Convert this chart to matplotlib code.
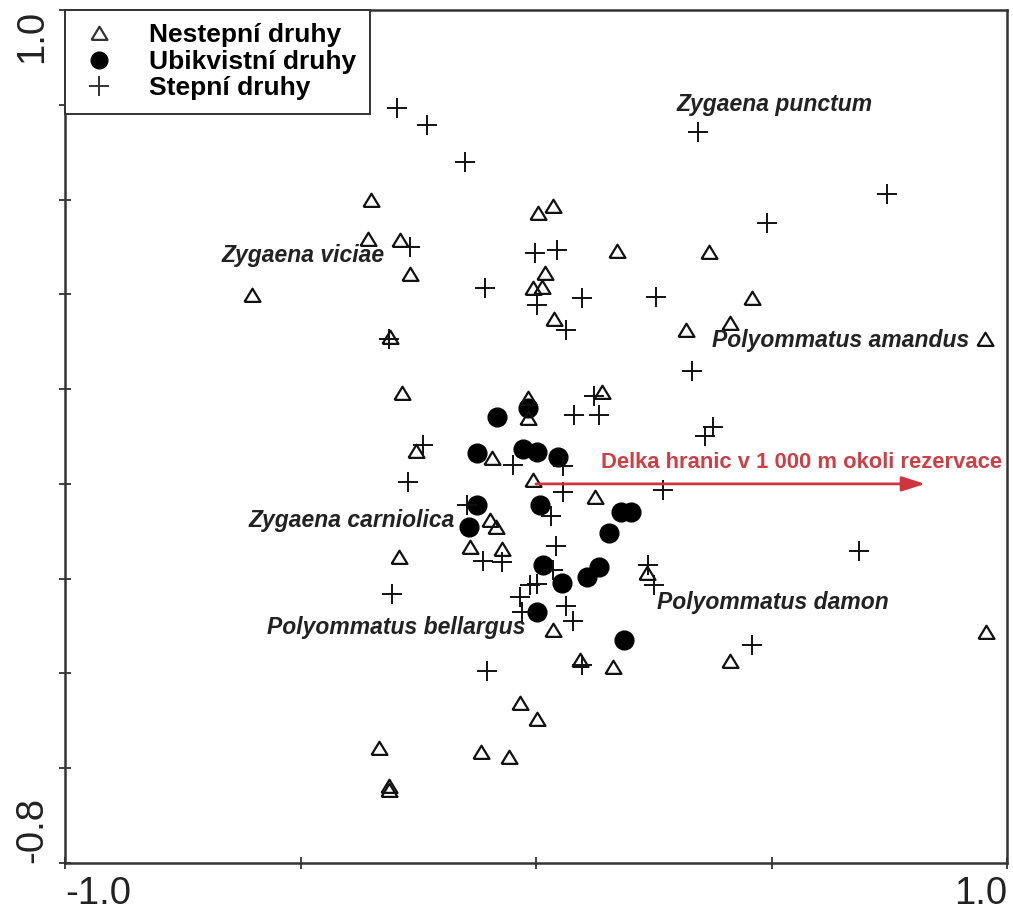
import numpy as np
import matplotlib.pyplot as plt
from matplotlib.lines import Line2D

plt.rcParams['font.family'] = ['Liberation Sans', 'DejaVu Sans']

# Nestepni druhy (triangles)
tri_x = [-0.350, 0.004, 0.036, -0.357, -0.289, -0.268, -0.603, 0.172, 0.367, 0.019,
         -0.006, 0.013, 0.038, 0.459, 0.318, 0.412, 0.953, -0.310, -0.285, 0.140,
         -0.017, -0.017, -0.255, -0.093, -0.006, 0.125, -0.098, -0.085, -0.140, -0.072,
         -0.291, 0.236, 0.036, 0.093, 0.163, 0.412, 0.955, -0.034, 0.002, -0.333,
         -0.117, -0.057, -0.312, -0.312]
tri_y = [0.599, 0.572, 0.587, 0.517, 0.515, 0.443, 0.399, 0.492, 0.490, 0.445,
         0.414, 0.416, 0.348, 0.392, 0.325, 0.340, 0.306, 0.310, 0.192, 0.194,
         0.181, 0.139, 0.070, 0.055, 0.008, -0.027, -0.076, -0.091, -0.133, -0.137,
         -0.154, -0.188, -0.308, -0.371, -0.386, -0.373, -0.312, -0.462, -0.496, -0.557,
         -0.566, -0.576, -0.637, -0.646]

# Ubikvistni druhy (filled circles)
dot_x = [-0.083, -0.017, -0.125, -0.028, 0.002, 0.047, -0.125, -0.142, 0.008, 0.180,
         0.202, 0.155, 0.015, 0.134, 0.108, 0.055, 0.002, 0.187]
dot_y = [0.141, 0.160, 0.065, 0.074, 0.068, 0.057, -0.044, -0.091, -0.044, -0.059,
         -0.059, -0.103, -0.171, -0.175, -0.196, -0.209, -0.270, -0.329]

# Stepni druhy (plus)
plus_x = [-0.295, -0.231, -0.151, 0.344, 0.745, 0.490, -0.268, -0.002, 0.045, -0.108,
          0.002, 0.098, 0.255, 0.064, -0.312, 0.331, 0.123, 0.081, 0.134, -0.240,
          0.376, 0.359, -0.049, 0.057, -0.272, 0.057, 0.270, -0.146, 0.032, 0.042,
          0.036, 0.686, -0.113, -0.072, 0.238, 0.251, -0.013, 0.002, -0.034, -0.030,
          0.064, 0.079, -0.306, 0.459, 0.098, -0.104]
plus_y = [0.793, 0.757, 0.679, 0.743, 0.612, 0.551, 0.500, 0.487, 0.494, 0.414,
          0.378, 0.392, 0.395, 0.325, 0.306, 0.238, 0.186, 0.146, 0.146, 0.082,
          0.120, 0.101, 0.040, 0.038, 0.004, -0.017, -0.013, -0.044, -0.068, -0.131,
          -0.181, -0.141, -0.162, -0.165, -0.171, -0.213, -0.213, -0.211, -0.238, -0.270,
          -0.257, -0.289, -0.232, -0.340, -0.382, -0.395]

# species labels (left edge, centre y)
species = ["Zygaena punctum", "Zygaena viciae", "Polyommatus amandus",
           "Zygaena carniolica", "Polyommatus damon", "Polyommatus bellargus"]
species_x = [0.299, -0.667, 0.374, -0.611, 0.257, -0.571]
species_y = [0.800, 0.483, 0.302, -0.078, -0.251, -0.304]

# environmental variable
env_name = "Delka hranic v 1 000 m okoli rezervace"
env_x = 0.826
env_y = 0.0

legend_labels = ["Nestepní druhy", "Ubikvistní druhy", "Stepní druhy"]

tri_marker = [(-1, -0.8), (1, -0.8), (0, 0.85), (-1, -0.8)]

fig = plt.figure(figsize=(10.13, 9.17), dpi=100)
ax = fig.add_axes([65 / 1013, 1 - 863 / 917, 942 / 1013, 853 / 917])

ax.plot(dot_x, dot_y, 'o', ms=13.5, color='black', mec='black', zorder=3)
ax.plot(tri_x, tri_y, ls='none', marker=tri_marker, ms=11.5, mfc='none',
        mec='#111111', mew=1.6, zorder=4)
ax.plot(plus_x, plus_y, '+', ms=15, color='#111111', mew=1.4, zorder=5)

red = '#d0343c'
ax.annotate('', xy=(env_x, env_y), xytext=(0, 0),
            arrowprops=dict(arrowstyle='-|>,head_length=1.4,head_width=0.45',
                            color=red, lw=2, shrinkA=0, shrinkB=0), zorder=6)
ax.text(0.138, 0.046, env_name, color='#cf3d45', fontsize=15.8, fontweight='bold',
        va='center', ha='left', zorder=7)

for name, sx, sy in zip(species, species_x, species_y):
    ax.text(sx, sy, name, fontsize=16.5, fontweight='bold', fontstyle='italic',
            color='#222222', va='center', ha='left', zorder=7)

ax.set_xlim(-1.0, 1.0)
ax.set_ylim(-0.8, 1.0)

ax.set_xticks([-1.0, -0.5, 0.0, 0.5, 1.0])
ax.set_xticklabels(['-1.0', '', '', '', '1.0'])
ax.set_yticks(np.round(np.arange(-0.8, 1.01, 0.2), 1))
ylabs = [''] * 10
ylabs[0] = '-0.8'
ylabs[-1] = '1.0'
ax.set_yticklabels(ylabs, rotation=90)

ax.tick_params(direction='inout', length=9, width=1.2, labelsize=27.5,
               colors='#222222', pad=6)
ax.tick_params(axis='x', pad=5)
xl = ax.get_xticklabels()
xl[0].set_ha('left')
xl[-1].set_ha('right')
yl = ax.get_yticklabels()
yl[0].set_va('bottom')
yl[-1].set_va('top')

for s in ax.spines.values():
    s.set_linewidth(1.8)
    s.set_color('#333333')

handles = [
    Line2D([], [], ls='none', marker=tri_marker, ms=11.5, mfc='none', mec='#333333', mew=1.6),
    Line2D([], [], ls='none', marker='o', ms=12, color='black'),
    Line2D([], [], ls='none', marker='+', ms=15, color='#333333', mew=1.4),
]
leg = ax.legend(handles, legend_labels, loc='upper left', bbox_to_anchor=(0, 1),
                borderaxespad=0, fancybox=False, edgecolor='#333333', framealpha=1,
                prop=dict(weight='bold', size=19), handletextpad=1.1,
                borderpad=0.5, labelspacing=0.1, handlelength=1.6)
leg.get_frame().set_linewidth(1.4)
leg.set_zorder(10)

fig.savefig('out.png', dpi=100)
